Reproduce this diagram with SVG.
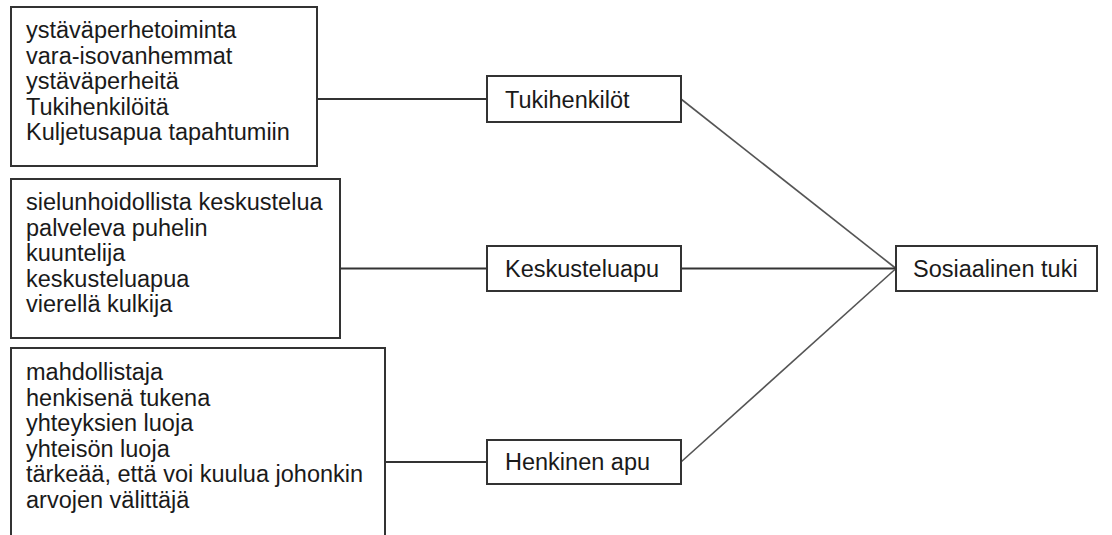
<svg xmlns="http://www.w3.org/2000/svg" width="1112" height="535" viewBox="0 0 1112 535">
<style>
  .box { fill: #ffffff; stroke: #333333; stroke-width: 2; }
  .t { font-family: "Liberation Sans", Arial, sans-serif; font-size: 23.5px; fill: #1a1a1a; }
  .h { stroke: #333333; stroke-width: 2; fill: none; }
  .d { stroke: #555555; stroke-width: 1.6; fill: none; }
</style>
<rect width="1112" height="535" fill="#ffffff"/>
<g id="connectors">
  <line class="h" x1="317" y1="99" x2="487" y2="99"/>
  <line class="h" x1="340" y1="268.5" x2="487" y2="268.5"/>
  <line class="h" x1="385" y1="462" x2="487" y2="462"/>
  <line class="d" x1="681" y1="99" x2="896" y2="268.5"/>
  <line class="h" x1="681" y1="268.5" x2="896" y2="268.5"/>
  <line class="d" x1="681" y1="462" x2="896" y2="268.5"/>
</g>
<g id="list-tukihenkilot">
  <rect class="box" x="11" y="7" width="306" height="159"/>
  <text class="t" x="26" y="38">ystäväperhetoiminta</text>
  <text class="t" x="26" y="63.5">vara-isovanhemmat</text>
  <text class="t" x="26" y="89">ystäväperheitä</text>
  <text class="t" x="26" y="114.5">Tukihenkilöitä</text>
  <text class="t" x="26" y="140">Kuljetusapua tapahtumiin</text>
</g>
<g id="list-keskusteluapu">
  <rect class="box" x="11" y="179" width="329" height="159"/>
  <text class="t" x="26" y="210">sielunhoidollista keskustelua</text>
  <text class="t" x="26" y="235.5">palveleva puhelin</text>
  <text class="t" x="26" y="261">kuuntelija</text>
  <text class="t" x="26" y="286.5">keskusteluapua</text>
  <text class="t" x="26" y="312">vierellä kulkija</text>
</g>
<g id="list-henkinen">
  <rect class="box" x="11" y="348" width="374" height="200"/>
  <text class="t" x="26" y="380">mahdollistaja</text>
  <text class="t" x="26" y="405.5">henkisenä tukena</text>
  <text class="t" x="26" y="431">yhteyksien luoja</text>
  <text class="t" x="26" y="456.5">yhteisön luoja</text>
  <text class="t" x="26" y="482">tärkeää, että voi kuulua johonkin</text>
  <text class="t" x="26" y="507.5">arvojen välittäjä</text>
</g>
<g id="node-tukihenkilot">
  <rect class="box" x="487" y="76" width="194" height="46"/>
  <text class="t" x="505" y="107.5">Tukihenkilöt</text>
</g>
<g id="node-keskusteluapu">
  <rect class="box" x="487" y="246" width="194" height="45"/>
  <text class="t" x="505" y="276.5">Keskusteluapu</text>
</g>
<g id="node-henkinen">
  <rect class="box" x="487" y="440" width="194" height="44"/>
  <text class="t" x="505" y="470">Henkinen apu</text>
</g>
<g id="node-sosiaalinen">
  <rect class="box" x="896" y="246" width="201" height="45"/>
  <text class="t" x="913" y="276.5">Sosiaalinen tuki</text>
</g>
</svg>
